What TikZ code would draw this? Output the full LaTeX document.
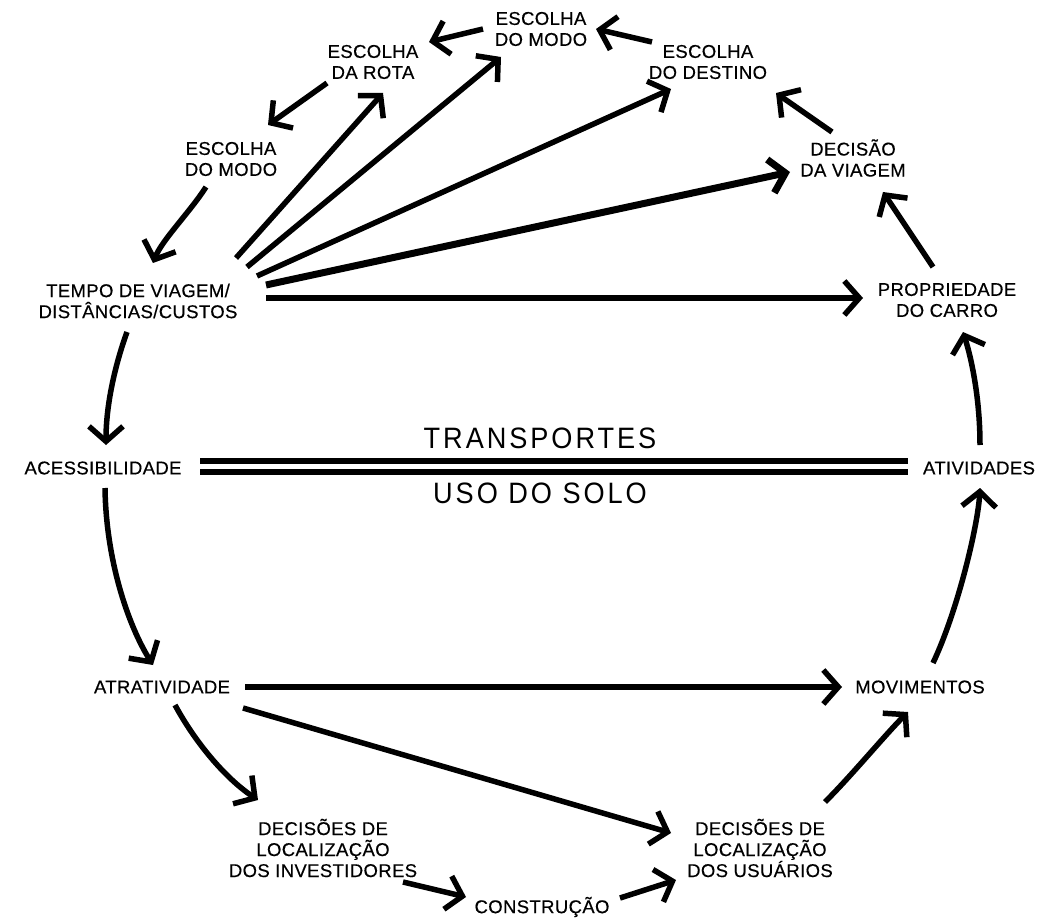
\documentclass[tikz,border=0pt]{standalone}
\usepackage{fontspec}
\usetikzlibrary{arrows.meta,calc}
\newfontfamily\labfont[LetterSpace=2,FakeBold=0.4]{Liberation Sans}
\newfontfamily\bigfont[FakeStretch=0.92,LetterSpace=10]{Liberation Sans}
\begin{document}
\begin{tikzpicture}[x=1pt,y=-1pt,
  lab/.style={inner sep=0pt,align=center,text=black,font=\labfont\fontsize{18.5}{21}\selectfont},
  big/.style={inner sep=0pt,text=black,font=\bigfont\fontsize{29.5}{31}\selectfont},
  arr/.style={line width=5.5pt,-{Straight Barb[length=15pt,width=34pt]}},
  thk/.style={line width=7pt,-{Straight Barb[length=15pt,width=34pt]}},
  dbl/.style={line width=5.5pt}]
\useasboundingbox (0,0) rectangle (1042,920);
% nodes
\node[lab] (modo1) at (541,29) {ESCOLHA\\DO MODO};
\node[lab] (rota) at (373,62) {ESCOLHA\\DA ROTA};
\node[lab] (destino) at (708,62) {ESCOLHA\\DO DESTINO};
\node[lab] (modo2) at (231,159) {ESCOLHA\\DO MODO};
\node[lab] (decisao) at (853,158) {DECISÃO\\DA VIAGEM};
\node[lab] (tempo) at (138,301) {TEMPO DE VIAGEM/\\DISTÂNCIAS/CUSTOS};
\node[lab] (prop) at (947,300) {PROPRIEDADE\\DO CARRO};
\node[lab] (acess) at (103,468) {ACESSIBILIDADE};
\node[lab] (ativ) at (979,468) {ATIVIDADES};
\node[big] (transp) at (540,438) {TRANSPORTES};
\node[big] (uso) at (540,493) {USO DO SOLO};
\node[lab] (atrat) at (162,687) {ATRATIVIDADE};
\node[lab] (movim) at (920,687) {MOVIMENTOS};
\node[lab] (decinv) at (323,848) {DECISÕES DE\\LOCALIZAÇÃO\\DOS INVESTIDORES};
\node[lab] (decusu) at (760,848) {DECISÕES DE\\LOCALIZAÇÃO\\DOS USUÁRIOS};
\node[lab] (constr) at (542,907) {CONSTRUÇÃO};
% double line
\draw[dbl] ($(acess)+(97,-7)$) -- ($(ativ)+(-71,-7)$);
\draw[dbl] ($(acess)+(97,4)$) -- ($(ativ)+(-71,4)$);
% top chain
\draw[arr] ($(modo1)+(-58,0)$) -- ($(rota)+(56,-20)$);
\draw[arr] ($(destino)+(-56,-20)$) -- ($(modo1)+(55,0)$);
\draw[arr] ($(rota)+(-46,21)$) -- ($(modo2)+(37,-34)$);
\draw[arr] ($(modo2)+(-25,28)$) .. controls ($(modo2)+(-41,53)$) and ($(tempo)+(24,-61)$) .. ($(tempo)+(15,-38)$);
% fan from tempo
\draw[arr] ($(tempo)+(98,-43)$) -- ($(rota)+(10,31)$);
\draw[arr] ($(tempo)+(109,-34)$) -- ($(modo1)+(-40,28)$);
\draw[arr] ($(tempo)+(119,-25)$) -- ($(destino)+(-37,27)$);
\draw[thk] ($(tempo)+(128,-16)$) -- ($(decisao)+(-63,14)$);
\draw[arr] ($(tempo)+(128,-3)$) -- ($(prop)+(-84,-2)$);
% right chain
\draw[arr] ($(decisao)+(-21,-26)$) -- ($(destino)+(68,31)$);
\draw[arr] ($(prop)+(-14,-33)$) -- ($(decisao)+(30,34)$);
\draw[arr] ($(ativ)+(1,-23)$) .. controls ($(ativ)+(1,-68)$) and ($(prop)+(25,60)$) .. ($(prop)+(16,32)$);
\draw[arr] ($(movim)+(13,-24)$) .. controls ($(movim)+(38,-77)$) and ($(ativ)+(-1,57)$) .. ($(ativ)+(1,20)$);
% left chain
\draw[arr] ($(tempo)+(-11,31)$) .. controls ($(tempo)+(-23,64)$) and ($(acess)+(3,-63)$) .. ($(acess)+(3,-23)$);
\draw[arr] ($(acess)+(2,20)$) .. controls ($(acess)+(3,92)$) and ($(atrat)+(-34,-62)$) .. ($(atrat)+(-9,-22)$);
% bottom
\draw[arr] ($(atrat)+(83,0)$) -- ($(movim)+(-78,0)$);
\draw[arr] ($(atrat)+(81,21)$) -- ($(decusu)+(-89,-15)$);
\draw[arr] ($(atrat)+(13,18)$) .. controls ($(atrat)+(33,55)$) and ($(decinv)+(-98,-70)$) .. ($(decinv)+(-65,-48)$);
\draw[arr] ($(decinv)+(80,34)$) -- ($(constr)+(-76,-10)$);
\draw[arr] ($(constr)+(78,-9)$) -- ($(decusu)+(-84,32)$);
\draw[arr] ($(decusu)+(65,-46)$) .. controls ($(decusu)+(92,-73)$) and ($(movim)+(-35,48)$) .. ($(movim)+(-12,25)$);
\end{tikzpicture}
\end{document}
